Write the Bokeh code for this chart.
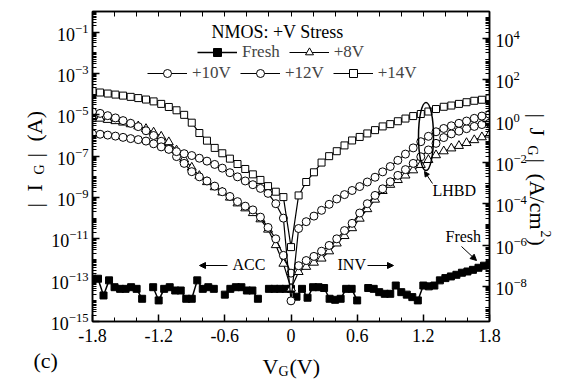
import math
from bokeh.plotting import figure
from bokeh.core.properties import value
from bokeh.models import (Range1d, LogAxis, LinearAxis, FixedTicker, LogScale, Label,
                          Arrow, NormalHead, Legend, LegendItem)
from bokeh.embed import file_html
from bokeh.resources import INLINE

# ---------------- data (log10 of |I_G| in A) ----------------
vg = [-1.8, -1.731, -1.662, -1.592, -1.523, -1.454, -1.385, -1.315, -1.246, -1.177,
      -1.108, -1.038, -0.969, -0.9, -0.831, -0.762, -0.692, -0.623, -0.554, -0.485,
      -0.415, -0.346, -0.277, -0.208, -0.138, -0.069, 0.0, 0.069, 0.138, 0.208,
      0.277, 0.346, 0.415, 0.485, 0.554, 0.623, 0.692, 0.762, 0.831, 0.9,
      0.969, 1.038, 1.108, 1.177, 1.246, 1.315, 1.385, 1.454, 1.523, 1.592,
      1.662, 1.731, 1.8]

log_ig_14v = [-3.85, -3.92, -3.97, -4.02, -4.07, -4.13, -4.19, -4.26, -4.35, -4.47,
              -4.62, -4.78, -5.0, -5.38, -5.88, -6.25, -6.6, -6.86, -7.12, -7.38,
              -7.62, -7.88, -8.15, -8.45, -8.72, -8.98, -11.4, -8.9, -8.25, -7.78,
              -7.31, -7.0, -6.76, -6.48, -6.24, -6.07, -5.9, -5.74, -5.56, -5.45,
              -5.31, -5.18, -5.06, -4.96, -4.84, -4.72, -4.61, -4.55, -4.47, -4.39,
              -4.32, -4.27, -4.21]

log_ig_10v = [-4.86, -4.93, -5.04, -5.15, -5.28, -5.41, -5.57, -5.77, -6.0, -6.28,
              -6.65, -7.02, -7.35, -7.75, -8.0, -8.2, -8.45, -8.72, -8.95, -9.2,
              -9.42, -9.6, -9.95, -10.45, -11.0, -11.8, -12.66, -12.3, -12.05, -11.85,
              -11.6, -11.32, -11.0, -10.6, -10.25, -9.75, -9.3, -8.9, -8.58, -8.24,
              -7.93, -7.65, -7.35, -7.03, -6.7, -6.38, -6.1, -5.92, -5.79, -5.67,
              -5.56, -5.47, -5.4]

log_ig_12v = [-5.92, -5.94, -5.98, -6.03, -6.09, -6.15, -6.2, -6.27, -6.4, -6.55,
              -6.67, -6.78, -6.88, -6.97, -7.1, -7.24, -7.4, -7.58, -7.8, -8.0,
              -8.2, -8.38, -8.56, -8.8, -9.3, -10.0, -14.0, -10.5, -10.17, -9.9,
              -9.62, -9.33, -9.07, -8.86, -8.66, -8.47, -8.25, -8.02, -7.76, -7.5,
              -7.2, -6.9, -6.6, -6.3, -6.04, -5.82, -5.66, -5.53, -5.41, -5.3,
              -5.17, -5.06, -4.97]

log_ig_8v = [-5.12, -5.18, -5.24, -5.3, -5.37, -5.45, -5.55, -5.68, -5.85, -6.05,
             -6.32, -6.72, -7.15, -7.55, -7.95, -8.25, -8.5, -8.75, -9.0, -9.28,
             -9.52, -9.75, -10.05, -10.55, -11.3, -12.2, -13.4, -12.6, -12.35, -12.15,
             -11.95, -11.6, -11.22, -10.86, -10.48, -10.02, -9.56, -9.1, -8.68, -8.38,
             -8.15, -7.93, -7.68, -7.42, -7.18, -6.95, -6.76, -6.62, -6.5, -6.36,
             -6.22, -6.08, -5.95]

vg_fresh = [-1.8, -1.75, -1.7, -1.65, -1.6, -1.55, -1.5, -1.45, -1.4, -1.35,
            -1.3, -1.25, -1.2, -1.15, -1.1, -1.05, -1.0, -0.95, -0.9, -0.85,
            -0.8, -0.75, -0.7, -0.65, -0.6, -0.55, -0.5, -0.45, -0.4, -0.35,
            -0.3, -0.25, -0.2, -0.15, -0.1, -0.05, 0.0, 0.05, 0.1, 0.15,
            0.2, 0.25, 0.3, 0.35, 0.4, 0.45, 0.5, 0.55, 0.6, 0.65,
            0.7, 0.75, 0.8, 0.85, 0.9, 0.95, 1.0, 1.05, 1.1, 1.15,
            1.2, 1.25, 1.3, 1.35, 1.4, 1.45, 1.5, 1.55, 1.6, 1.65,
            1.7, 1.75, 1.8]
log_ig_fresh = [-12.93, -12.93, -13.74, -13.01, -13.34, -13.42, -13.42, -13.34, -13.42, -13.9,
                None, -13.34, -13.98, -13.42, -13.34, -13.5, -13.5, -13.9, -13.9, -13.01,
                -13.42, -13.34, -13.42, None, -13.7, -13.42, -13.34, -13.34, -13.5, -13.5,
                -13.9, None, -13.42, -13.42, -13.42, -13.42, -13.42, -13.8, -13.42, -13.85,
                -13.34, -13.34, -13.38, -13.9, -13.95, -13.9, -13.42, -13.42, -13.98, None,
                -13.38, -13.42, -13.58, -13.66, -13.66, -13.26, -13.58, -13.7, -13.82, -13.98,
                -13.26, -13.3, -13.26, -13.01, -12.9, -12.82, -12.74, -12.64, -12.58, -12.5,
                -12.4, -12.3, -12.21]

x_ticks = [-1.8, -1.2, -0.6, 0.0, 0.6, 1.2, 1.8]
x_tick_labels = ["-1.8", "-1.2", "-0.6", "0", "0.6", "1.2", "1.8"]
x_minor = [-1.8, -1.6, -1.4, -1.2, -1.0, -0.8, -0.6, -0.4, -0.2, 0.0,
           0.2, 0.4, 0.6, 0.8, 1.0, 1.2, 1.4, 1.6, 1.8]
ig_label_exponents = [-15, -13, -11, -9, -7, -5, -3, -1]
jg_label_exponents = [-8, -6, -4, -2, 0, 2, 4]
log_area = -5.3  # log10 of gate area (cm^2): J = I / area

ig_8v = [10 ** v for v in log_ig_8v]
ig_10v = [10 ** v for v in log_ig_10v]
ig_12v = [10 ** v for v in log_ig_12v]
ig_14v = [10 ** v for v in log_ig_14v]
ig_fresh = [10 ** v if v is not None else float("nan") for v in log_ig_fresh]

# ---------------- layout ----------------
FONT = "Liberation Serif"
W, H = 571, 381
FL, FR, FT, FB = 92, 489, 11, 321
VMIN, VMAX = -1.8, 1.8
LMIN, LMAX = -15.0, 0.0


def vx(px):
    return VMIN + (px - FL) * (VMAX - VMIN) / (FR - FL)


def iy(py):
    return 10 ** (LMAX - (py - FT) * (LMAX - LMIN) / (FB - FT))


p = figure(width=W, height=H, output_backend="svg", toolbar_location=None,
           x_range=Range1d(VMIN, VMAX), y_range=Range1d(10 ** LMIN, 10 ** LMAX),
           y_axis_type="log",
           min_border_left=FL, min_border_right=W - FR,
           min_border_top=FT, min_border_bottom=H - FB)
p.xgrid.visible = False
p.ygrid.visible = False
p.outline_line_color = "black"
p.outline_line_width = 1.5
p.background_fill_color = "white"
p.border_fill_color = "white"


def style_axis(ax):
    ax.axis_line_width = 1.5
    ax.axis_line_color = "black"
    ax.major_tick_in = 7
    ax.major_tick_out = 0
    ax.minor_tick_in = 4
    ax.minor_tick_out = 0
    ax.major_tick_line_width = 1.5
    ax.minor_tick_line_width = 1
    ax.major_label_text_font = FONT
    ax.major_label_text_font_size = "18px"
    ax.major_label_text_color = "black"


# bottom axis
xa = p.xaxis[0]
xa.ticker = FixedTicker(ticks=x_ticks, minor_ticks=x_minor)
xa.major_label_overrides = {t: s for t, s in zip(x_ticks, x_tick_labels)}
style_axis(xa)
xa.major_label_standoff = 7

# top axis (ticks only)
ta = LinearAxis(ticker=FixedTicker(ticks=[], minor_ticks=x_minor))
style_axis(ta)
ta.minor_tick_in = 5
p.add_layout(ta, "above")

# left axis
ya = p.yaxis[0]
ig_minor = [m * 10.0 ** k for k in range(-15, 0) for m in range(1, 10)]
ya.ticker = FixedTicker(ticks=[10.0 ** e for e in ig_label_exponents], minor_ticks=ig_minor)
style_axis(ya)
ya.major_label_standoff = 4

# right axis (current density)
p.extra_y_ranges = {"J": Range1d(10 ** (LMIN - log_area), 10 ** (LMAX - log_area))}
p.extra_y_scales = {"J": LogScale()}
jg_minor = [m * 10.0 ** k for k in range(-10, 6) for m in range(1, 10)]
ja = LogAxis(y_range_name="J",
             ticker=FixedTicker(ticks=[10.0 ** e for e in jg_label_exponents], minor_ticks=jg_minor))
style_axis(ja)
ja.major_label_standoff = 6
p.add_layout(ja, "right")

# ---------------- data renderers ----------------
lw = 1.2
r_fl = p.line(vg_fresh, ig_fresh, line_color="black", line_width=1.5)
r_fp = p.scatter(vg_fresh, ig_fresh, marker="square", size=7, fill_color="black", line_color="black")

r8l = p.line(vg, ig_8v, line_color="black", line_width=lw)
r8p = p.scatter(vg, ig_8v, marker="triangle", size=9, fill_color="white", line_color="black", line_width=1)
r10l = p.line(vg, ig_10v, line_color="black", line_width=lw)
r10p = p.scatter(vg, ig_10v, marker="circle", size=8, fill_color="white", line_color="black", line_width=1)
r12l = p.line(vg, ig_12v, line_color="black", line_width=lw)
r12p = p.scatter(vg, ig_12v, marker="circle", size=8, fill_color="white", line_color="black", line_width=1)
r14l = p.line(vg, ig_14v, line_color="black", line_width=lw)
r14p = p.scatter(vg, ig_14v, marker="square", size=7, fill_color="white", line_color="black", line_width=1)

# ---------------- legend ----------------
common = dict(orientation="horizontal", glyph_width=40, glyph_height=20, label_height=20,
              label_standoff=5, spacing=9, padding=0, margin=0,
              border_line_alpha=0, background_fill_alpha=0,
              label_text_font=FONT, label_text_font_size="17px")
leg1 = Legend(items=[LegendItem(label="Fresh", renderers=[r_fl, r_fp]),
                     LegendItem(label="+8V", renderers=[r8l, r8p])],
              location=(197 - FL, FB - 62), **common)
leg2 = Legend(items=[LegendItem(label="+10V", renderers=[r10l, r10p]),
                     LegendItem(label="+12V", renderers=[r12l, r12p]),
                     LegendItem(label="+14V", renderers=[r14l, r14p])],
              location=(147 - FL, FB - 83), **common)
p.add_layout(leg1)
p.add_layout(leg2)


def lab(text, x, y, size="16px", align="left", baseline="middle", angle=0.0):
    # positions given in picture pixels, measured from the canvas top-left corner
    p.add_layout(Label(x=x, y=y, x_units="canvas", y_units="canvas",
                       text=text, text_font=FONT, text_font_size=size, text_align=align,
                       text_baseline=baseline, angle=angle, text_color="black"))


lab("NMOS: +V Stress", 277, 31, size="18px", align="center")
lab("ACC", 232, 264)
lab("INV", 337, 264)
lab("LHBD", 432, 190)
lab("Fresh", 445, 236)


def outside_text(text, x, y, size, angle=0.0, align="left", baseline="alphabetic"):
    # texts outside the frame (axis titles, panel tag), drawn on the overlay level
    p.text(x=[vx(x)], y=[iy(y)], text=[text], angle=angle,
           text_font=value(FONT), text_font_size=value(size),
           text_align=align, text_baseline=baseline, text_color="black", level="overlay")


outside_text("(c)", 33, 360, "22px")

# x axis title  V_G (V)
outside_text("V", 262, 366, "22px")
outside_text("G", 278, 371, "14px")
outside_text("(V)", 289, 366, "22px")

# left axis title |I_G| (A)  (reads bottom to top)
up = math.pi / 2
outside_text("|", 34, 207, "22px", angle=up)
outside_text("I", 34, 191, "22px", angle=up)
outside_text("G", 39, 174, "14px", angle=up)
outside_text("|", 34, 157, "22px", angle=up)
outside_text("(A)", 34, 141, "22px", angle=up)

# right axis title |J_G| (A/cm^2)  (reads top to bottom)
dn = -math.pi / 2
outside_text("|", 537, 113, "22px", angle=dn)
outside_text("J", 537, 127, "22px", angle=dn)
outside_text("G", 532, 145, "14px", angle=dn)
outside_text("|", 537, 158, "22px", angle=dn)
outside_text("(A/cm", 537, 173, "22px", angle=dn)
outside_text("2", 545, 230, "14px", angle=dn)
outside_text(")", 537, 238, "22px", angle=dn)


# arrows
def arrow(x0, y0, x1, y1, size=6):
    p.add_layout(Arrow(end=NormalHead(size=size, fill_color="black", line_color="black"),
                       x_start=vx(x0), y_start=iy(y0), x_end=vx(x1), y_end=iy(y1),
                       line_color="black", line_width=1))


arrow(227, 265, 199, 265)
arrow(367, 265, 393, 265)
arrow(461, 246, 476, 260)
arrow(432, 183, 424, 171, size=5)

# LHBD ellipse
p.ellipse(x=[vx(425.5)], y=[iy(136)], width=15, height=68,
          width_units="screen", height_units="screen",
          fill_alpha=0, line_color="black", line_width=1.5)

open("out.html", "w").write(file_html(p, INLINE))
